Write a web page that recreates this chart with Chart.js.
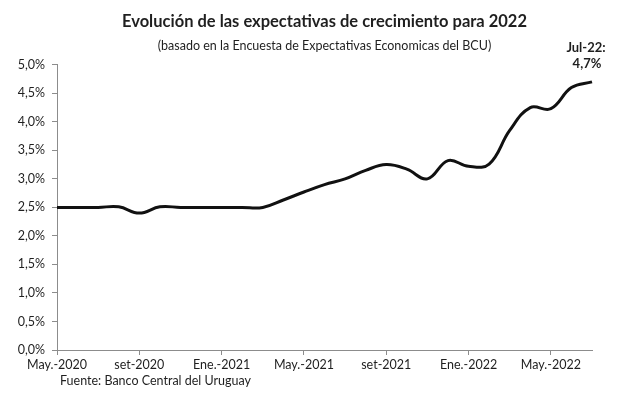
<!DOCTYPE html>
<html>
<head>
<meta charset="utf-8">
<script src="https://cdn.jsdelivr.net/npm/chart.js@4/dist/chart.umd.min.js"></script>
<style>
  html, body { margin: 0; padding: 0; background: #fff; }
  #wrap { width: 617px; height: 398px; position: relative; }
</style>
</head>
<body>
<div id="wrap"><canvas id="expectativas"></canvas></div>
<script>
    // meses de la encuesta (May.-2020 a Jul.-2022)
    const months = [
        'May.-2020', 'Jun.-2020', 'Jul.-2020', 'Ago.-2020', 'set-2020', 'Oct.-2020',
        'Nov.-2020', 'Dic.-2020', 'Ene.-2021', 'Feb.-2021', 'Mar.-2021', 'Abr.-2021',
        'May.-2021', 'Jun.-2021', 'Jul.-2021', 'Ago.-2021', 'set-2021', 'Oct.-2021',
        'Nov.-2021', 'Dic.-2021', 'Ene.-2022', 'Feb.-2022', 'Mar.-2022', 'Abr.-2022',
        'May.-2022', 'Jun.-2022', 'Jul.-2022'
    ];

    // expectativa de crecimiento para 2022 (%)
    const growth2022 = [
        2.5, 2.5, 2.5, 2.51, 2.4, 2.51,
        2.5, 2.5, 2.5, 2.5, 2.5, 2.63,
        2.77, 2.9, 3.0, 3.15, 3.25, 3.17,
        3.0, 3.32, 3.22, 3.26, 3.85, 4.25,
        4.23, 4.6, 4.7
    ];

    const yTicks = [0, 0.5, 1, 1.5, 2, 2.5, 3, 3.5, 4, 4.5, 5];

    const lastLabel = ['Jul-22:', '4,7%'];
    const sourceText = 'Fuente: Banco Central del Uruguay';

    const fontFamily = 'Lato, "Open Sans", sans-serif';
    const axisGrey = '#8c8c8c';
    const textColor = '#1f1f1f';

    const pct = (v) => v.toFixed(1).replace('.', ',') + '%';

    const extraText = {
        id: 'extraText',
        afterDraw(chart) {
            const ctx = chart.ctx;
            const x = chart.scales.x;
            const lastX = x.getPixelForValue(months.length - 1);
            ctx.save();
            ctx.fillStyle = textColor;
            ctx.textAlign = 'center';
            ctx.textBaseline = 'middle';
            ctx.font = 'bold 13px ' + fontFamily;
            ctx.fillText(lastLabel[0], lastX - 6, 48);
            ctx.fillText(lastLabel[1], lastX - 5, 64);
            ctx.textAlign = 'left';
            ctx.font = '12.5px ' + fontFamily;
            ctx.fillText(sourceText, 60, 381);
            ctx.restore();
        }
    };

    const cfg = {
        type: 'line',
        data: {
            labels: months,
            datasets: [{
                label: 'Expectativa 2022',
                data: growth2022,
                borderColor: '#111111',
                borderWidth: 3,
                pointRadius: 0,
                tension: 0.4,
                fill: false
            }]
        },
        options: {
            responsive: true,
            maintainAspectRatio: false,
            animation: false,
            layout: { padding: { left: 0, right: 25, top: 0, bottom: 0 } },
            plugins: {
                legend: { display: false },
                tooltip: { enabled: false },
                title: {
                    display: true,
                    fullSize: false,
                    text: 'Evolución de las expectativas de crecimiento para 2022',
                    color: textColor,
                    font: { family: fontFamily, size: 16.5, weight: 'bold' },
                    padding: { top: 12, bottom: 7 }
                },
                subtitle: {
                    display: true,
                    fullSize: false,
                    text: '(basado en la Encuesta de Expectativas Economicas del BCU)',
                    color: textColor,
                    font: { family: fontFamily, size: 12.5 },
                    padding: { top: 0, bottom: 11 }
                }
            },
            scales: {
                x: {
                    type: 'category',
                    offset: false,
                    border: { display: true, color: axisGrey, width: 1 },
                    grid: { drawOnChartArea: false, tickLength: 5, color: axisGrey },
                    ticks: {
                        autoSkip: false,
                        maxRotation: 0,
                        padding: 2,
                        color: textColor,
                        font: { family: fontFamily, size: 12.5 },
                        callback: function (value, index) {
                            return index % 4 === 0 ? months[index] : null;
                        }
                    },
                    afterFit: (scale) => { scale.height = 48; }
                },
                y: {
                    min: 0,
                    max: 5,
                    border: { display: true, color: axisGrey, width: 1 },
                    grid: { drawOnChartArea: false, tickLength: 5, color: axisGrey },
                    afterBuildTicks: (scale) => { scale.ticks = yTicks.map(v => ({ value: v })); },
                    ticks: {
                        padding: 7,
                        color: textColor,
                        font: { family: fontFamily, size: 12.5 },
                        callback: (v) => pct(v)
                    },
                    afterFit: (scale) => { scale.width = 57; }
                }
            }
        },
        plugins: [extraText]
    };

    const expectativas = new Chart(
        document.getElementById('expectativas'),
        cfg
    );
</script>
</body>
</html>
